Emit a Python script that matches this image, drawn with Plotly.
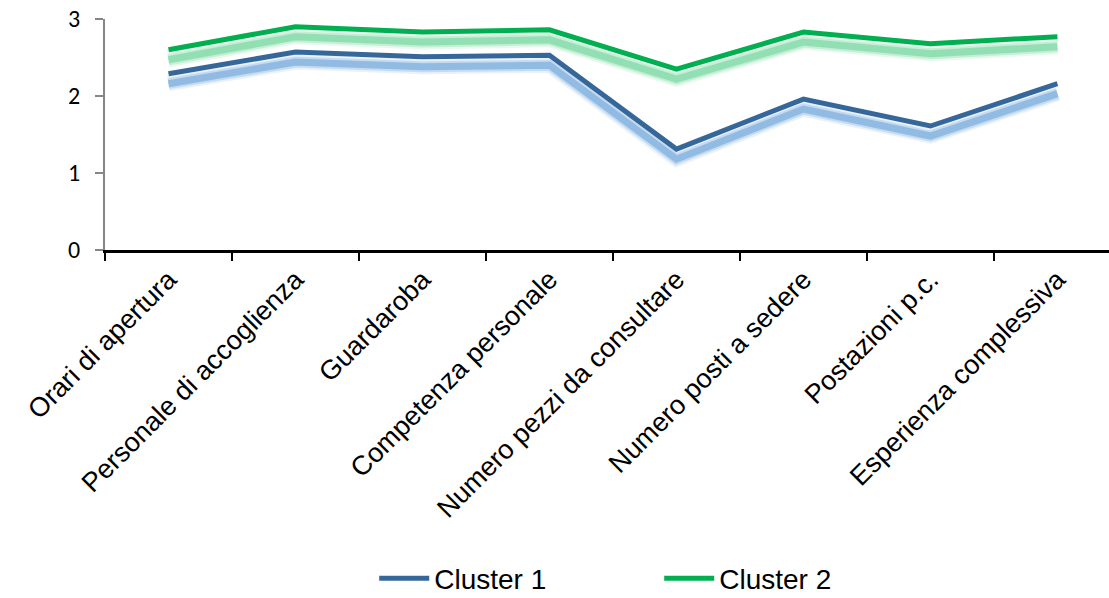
import plotly.graph_objects as go

categories = [
    "Orari di apertura",
    "Personale di accoglienza",
    "Guardaroba",
    "Competenza personale",
    "Numero pezzi da consultare",
    "Numero posti a sedere",
    "Postazioni p.c.",
    "Esperienza complessiva",
]
cluster_1 = [2.29, 2.57, 2.51, 2.53, 1.31, 1.96, 1.61, 2.16]
cluster_2 = [2.60, 2.90, 2.83, 2.86, 2.35, 2.83, 2.68, 2.77]

series = [
    ("Cluster 1", cluster_1, "#35679A", "#6FA6DC"),
    ("Cluster 2", cluster_2, "#00B050", "#6FD69A"),
]

# soft glow sitting just beneath each line
glow_shift = 0.13
glow_layers = [(15, 0.15), (11, 0.28), (7, 0.6)]

fig = go.Figure()
for name, vals, color, glow in series:
    shifted = [v - glow_shift for v in vals]
    for w, op in glow_layers:
        fig.add_trace(go.Scatter(
            x=categories, y=shifted, mode="lines",
            line=dict(color=glow, width=w, shape="linear"),
            opacity=op, showlegend=False, hoverinfo="skip",
        ))
for name, vals, color, glow in series:
    fig.add_trace(go.Scatter(
        x=categories, y=vals, mode="lines", name=name,
        line=dict(color=color, width=5),
    ))

fig.update_layout(
    width=1109, height=598,
    margin=dict(l=105, r=0, t=19, b=348, autoexpand=False),
    paper_bgcolor="white", plot_bgcolor="white",
    font=dict(family="Liberation Sans, Arial, sans-serif", color="black"),
    showlegend=True,
    legend=dict(
        orientation="h", x=0.552, xanchor="center", y=-1.53, yanchor="bottom",
        font=dict(size=28), entrywidth=220, itemwidth=50,
        traceorder="normal",
    ),
)
fig.update_xaxes(
    type="category", range=[-0.5, 7.406], automargin=False,
    tickson="boundaries", ticks="outside", ticklen=8, tickwidth=2, tickcolor="black",
    showline=True, linecolor="black", linewidth=3,
    showgrid=False, zeroline=False,
    tickangle=-45, tickfont=dict(size=27),
)
fig.update_yaxes(
    range=[0, 3], tickvals=[0, 1, 2, 3], ticks="outside", ticklen=8,
    tickcolor="#868686", tickwidth=2, automargin=False,
    showline=True, linecolor="#868686", linewidth=2,
    showgrid=False, zeroline=False, ticklabelstandoff=10,
    tickfont=dict(size=24, family="Carlito, Calibri, Open Sans, sans-serif"),
)

fig.write_html("out.html")
